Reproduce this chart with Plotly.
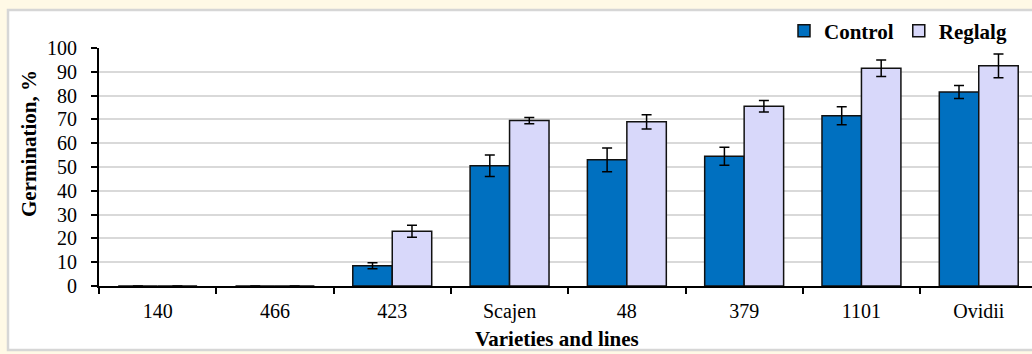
import plotly.graph_objects as go

categories = ["140", "466", "423", "Scajen", "48", "379", "1101", "Ovidii"]
control = [0, 0, 8.5, 50.5, 53, 54.5, 71.5, 81.5]
control_err = [0, 0, 1.3, 4.5, 5.0, 3.8, 3.8, 2.7]
reglalg = [0, 0, 23, 69.5, 69, 75.5, 91.5, 92.5]
reglalg_err = [0, 0, 2.5, 1.3, 3.0, 2.4, 3.5, 5.0]
y_ticks = list(range(0, 101, 10))

W, H = 1032, 354
L, R, T, B = 99, 1032, 48, 286
cat_px = 117.3

FONT = "Liberation Serif, Times New Roman, serif"

def px_x(px):
    return (px - L) / (R - L)

def px_y(py):
    return (B - py) / (B - T)

fig = go.Figure()
fig.add_trace(go.Bar(
    name="Control", x=categories, y=control,
    marker=dict(color="#0070C0", line=dict(color="#111111", width=1.5)),
    error_y=dict(type="data", array=control_err, color="#000000", thickness=1.5, width=5),
))
fig.add_trace(go.Bar(
    name="Reglalg", x=categories, y=reglalg,
    marker=dict(color="#D8D8FA", line=dict(color="#111111", width=1.5)),
    error_y=dict(type="data", array=reglalg_err, color="#000000", thickness=1.5, width=5),
))

fig.update_layout(
    width=W, height=H,
    margin=dict(l=L, r=W - R, t=T, b=H - B, pad=0),
    paper_bgcolor="#FFF9E6",
    plot_bgcolor="rgba(0,0,0,0)",
    barmode="group", bargap=0.327, bargroupgap=0,
    font=dict(family=FONT, size=20, color="#000000"),
    showlegend=True,
    legend=dict(
        orientation="h", x=px_x(1012), xanchor="right", y=px_y(31), yanchor="middle",
        font=dict(family=FONT, size=21, color="#000000", weight="bold"),
        bgcolor="rgba(0,0,0,0)", itemwidth=30, traceorder="normal",
    ),
    shapes=[dict(
        type="rect", xref="paper", yref="paper", layer="below",
        x0=px_x(8), x1=px_x(1040), y0=px_y(350), y1=px_y(10),
        fillcolor="#FFFFFF", line=dict(color="#D6D6D6", width=2.5),
    )],
    annotations=[
        dict(text="<b>Germination, %</b>", textangle=-90, xref="paper", yref="paper",
             x=px_x(29), y=px_y(144), xanchor="center", yanchor="middle", showarrow=False,
             font=dict(family=FONT, size=21, color="#000000")),
        dict(text="<b>Varieties and lines</b>", xref="paper", yref="paper",
             x=px_x(557), y=px_y(339), xanchor="center", yanchor="middle", showarrow=False,
             font=dict(family=FONT, size=21, color="#000000")),
    ],
)
fig.update_xaxes(
    range=[-0.5, -0.5 + (R - L) / cat_px],
    showline=True, linecolor="#000000", linewidth=2,
    ticks="outside", tickson="boundaries", ticklen=6, tickwidth=1.5, tickcolor="#000000",
    tickfont=dict(family=FONT, size=20), ticklabelstandoff=6,
    showgrid=False, zeroline=False,
)
fig.update_yaxes(
    range=[0, 100], tickvals=y_ticks,
    showline=True, linecolor="#000000", linewidth=2,
    ticks="outside", ticklen=6, tickwidth=1.5, tickcolor="#000000",
    tickfont=dict(family=FONT, size=20), ticklabelstandoff=10,
    showgrid=True, gridcolor="#D9D9D9", gridwidth=2, zeroline=False,
)

fig.write_html(
    "out.html",
    config={"displayModeBar": False},
    post_script="document.body.style.margin='0';document.body.style.overflow='hidden';",
)
